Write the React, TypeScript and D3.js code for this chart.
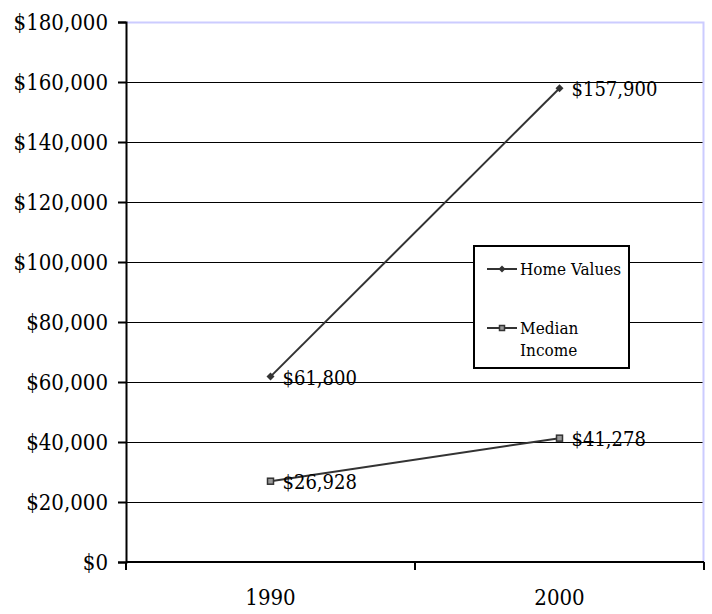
import React, { useEffect, useRef } from 'react';
import * as d3 from 'd3';

const years = ['1990', '2000'];
const homeValues = [61800, 157900];
const medianIncome = [26928, 41278];
const yTicks = [0, 20000, 40000, 60000, 80000, 100000, 120000, 140000, 160000, 180000];

const W = 712;
const H = 614;
const margin = { top: 22, right: 8, bottom: 52, left: 126 };

export default function App() {
  const svgRef = useRef<SVGSVGElement | null>(null);

  useEffect(() => {
    const root = d3.select(svgRef.current);
    root.selectAll('*').remove();

    const width = W - margin.left - margin.right;
    const height = H - margin.top - margin.bottom;
    const font = '"DejaVu Serif Condensed", "DejaVu Serif", serif';

    const svg = root.append('g').attr('transform', `translate(${margin.left}, ${margin.top})`);

    const x = d3.scaleBand().domain(years).range([0, width]);
    const y = d3.scaleLinear().domain([0, 180000]).range([height, 0]);

    // horizontal grid lines
    svg
      .append('g')
      .selectAll('line')
      .data(yTicks.filter((t) => t > 0 && t < 180000))
      .join('line')
      .attr('x1', 0)
      .attr('x2', width)
      .attr('y1', (d) => Math.round(y(d)) + 0.5)
      .attr('y2', (d) => Math.round(y(d)) + 0.5)
      .attr('stroke', '#000')
      .attr('stroke-width', 1.2);

    // plot border (top / right)
    svg
      .append('path')
      .attr('d', `M0,0.5H${width - 0.5}V${height}`)
      .attr('fill', 'none')
      .attr('stroke', '#ccccff')
      .attr('stroke-width', 2);

    // Y axis
    const yAxis = svg
      .append('g')
      .call(
        d3
          .axisLeft(y)
          .tickValues(yTicks)
          .tickSize(8)
          .tickPadding(10)
          .tickFormat((d) => '$' + d3.format(',')(d as number)),
      );
    yAxis.select('.domain').attr('stroke-width', 2);
    yAxis.selectAll('.tick line').attr('stroke-width', 2);
    yAxis.selectAll('text').style('font-family', font).style('font-size', '22px').attr('fill', '#000');

    // X axis
    const xAxis = svg.append('g').attr('transform', `translate(0, ${height})`);
    xAxis
      .append('line')
      .attr('x1', 0)
      .attr('x2', width)
      .attr('stroke', '#000')
      .attr('stroke-width', 2);
    xAxis
      .selectAll('.xt')
      .data([0, 1, 2])
      .join('line')
      .attr('x1', (d) => d * x.bandwidth())
      .attr('x2', (d) => d * x.bandwidth())
      .attr('y1', 0)
      .attr('y2', 8)
      .attr('stroke', '#000')
      .attr('stroke-width', 2);
    xAxis
      .selectAll('text')
      .data(years)
      .join('text')
      .attr('x', (d) => (x(d) || 0) + x.bandwidth() / 2)
      .attr('y', 43)
      .attr('text-anchor', 'middle')
      .style('font-family', font)
      .style('font-size', '22px')
      .text((d) => d);

    const cx = (d: string) => (x(d) || 0) + x.bandwidth() / 2;
    const line = d3
      .line<number>()
      .x((_, i) => cx(years[i]))
      .y((d) => y(d));

    // lines
    [homeValues, medianIncome].forEach((series) => {
      svg
        .append('path')
        .datum(series)
        .attr('d', line)
        .attr('fill', 'none')
        .attr('stroke', '#333')
        .attr('stroke-width', 2);
    });

    // markers
    svg
      .selectAll('.hv')
      .data(homeValues)
      .join('path')
      .attr('transform', (d, i) => `translate(${cx(years[i])}, ${y(d)})`)
      .attr('d', 'M0,-4L4,0L0,4L-4,0Z')
      .attr('fill', '#333');
    svg
      .selectAll('.mi')
      .data(medianIncome)
      .join('rect')
      .attr('x', (d, i) => cx(years[i]) - 3)
      .attr('y', (d) => y(d) - 3)
      .attr('width', 6)
      .attr('height', 6)
      .attr('fill', '#999')
      .attr('stroke', '#333')
      .attr('stroke-width', 1.5);

    // data labels
    [homeValues, medianIncome].forEach((series) => {
      svg
        .append('g')
        .selectAll('text')
        .data(series)
        .join('text')
        .attr('x', (d, i) => cx(years[i]) + 12)
        .attr('y', (d) => y(d) + 8)
        .style('font-family', font)
        .style('font-size', '20px')
        .text((d) => '$' + d3.format(',')(d));
    });

    // legend
    const lg = svg.append('g').attr('transform', `translate(${474 - margin.left}, ${246 - margin.top})`);
    lg.append('rect')
      .attr('width', 155)
      .attr('height', 122)
      .attr('fill', '#fff')
      .attr('stroke', '#000')
      .attr('stroke-width', 2);
    const items = [
      { name: ['Home Values'], y: 23, marker: 'diamond' },
      { name: ['Median', 'Income'], y: 82, marker: 'square' },
    ];
    items.forEach((it) => {
      const g = lg.append('g').attr('transform', `translate(0, ${it.y})`);
      g.append('line').attr('x1', 13).attr('x2', 43).attr('stroke', '#333').attr('stroke-width', 2);
      if (it.marker === 'diamond') {
        g.append('path').attr('transform', 'translate(28,0)').attr('d', 'M0,-3.5L3.5,0L0,3.5L-3.5,0Z').attr('fill', '#333');
      } else {
        g.append('rect')
          .attr('x', 25.5)
          .attr('y', -2.5)
          .attr('width', 5)
          .attr('height', 5)
          .attr('fill', '#999')
          .attr('stroke', '#333')
          .attr('stroke-width', 1.5);
      }
      it.name.forEach((t, k) => {
        g.append('text')
          .attr('x', 46)
          .attr('y', 6 + k * 22)
          .style('font-family', font)
          .style('font-size', '17px')
          .text(t);
      });
    });
  }, []);

  return (
    <svg
      ref={svgRef}
      width={W}
      height={H}
      style={{ position: 'absolute', left: 0, top: 0, background: '#fff' }}
    ></svg>
  );
}
